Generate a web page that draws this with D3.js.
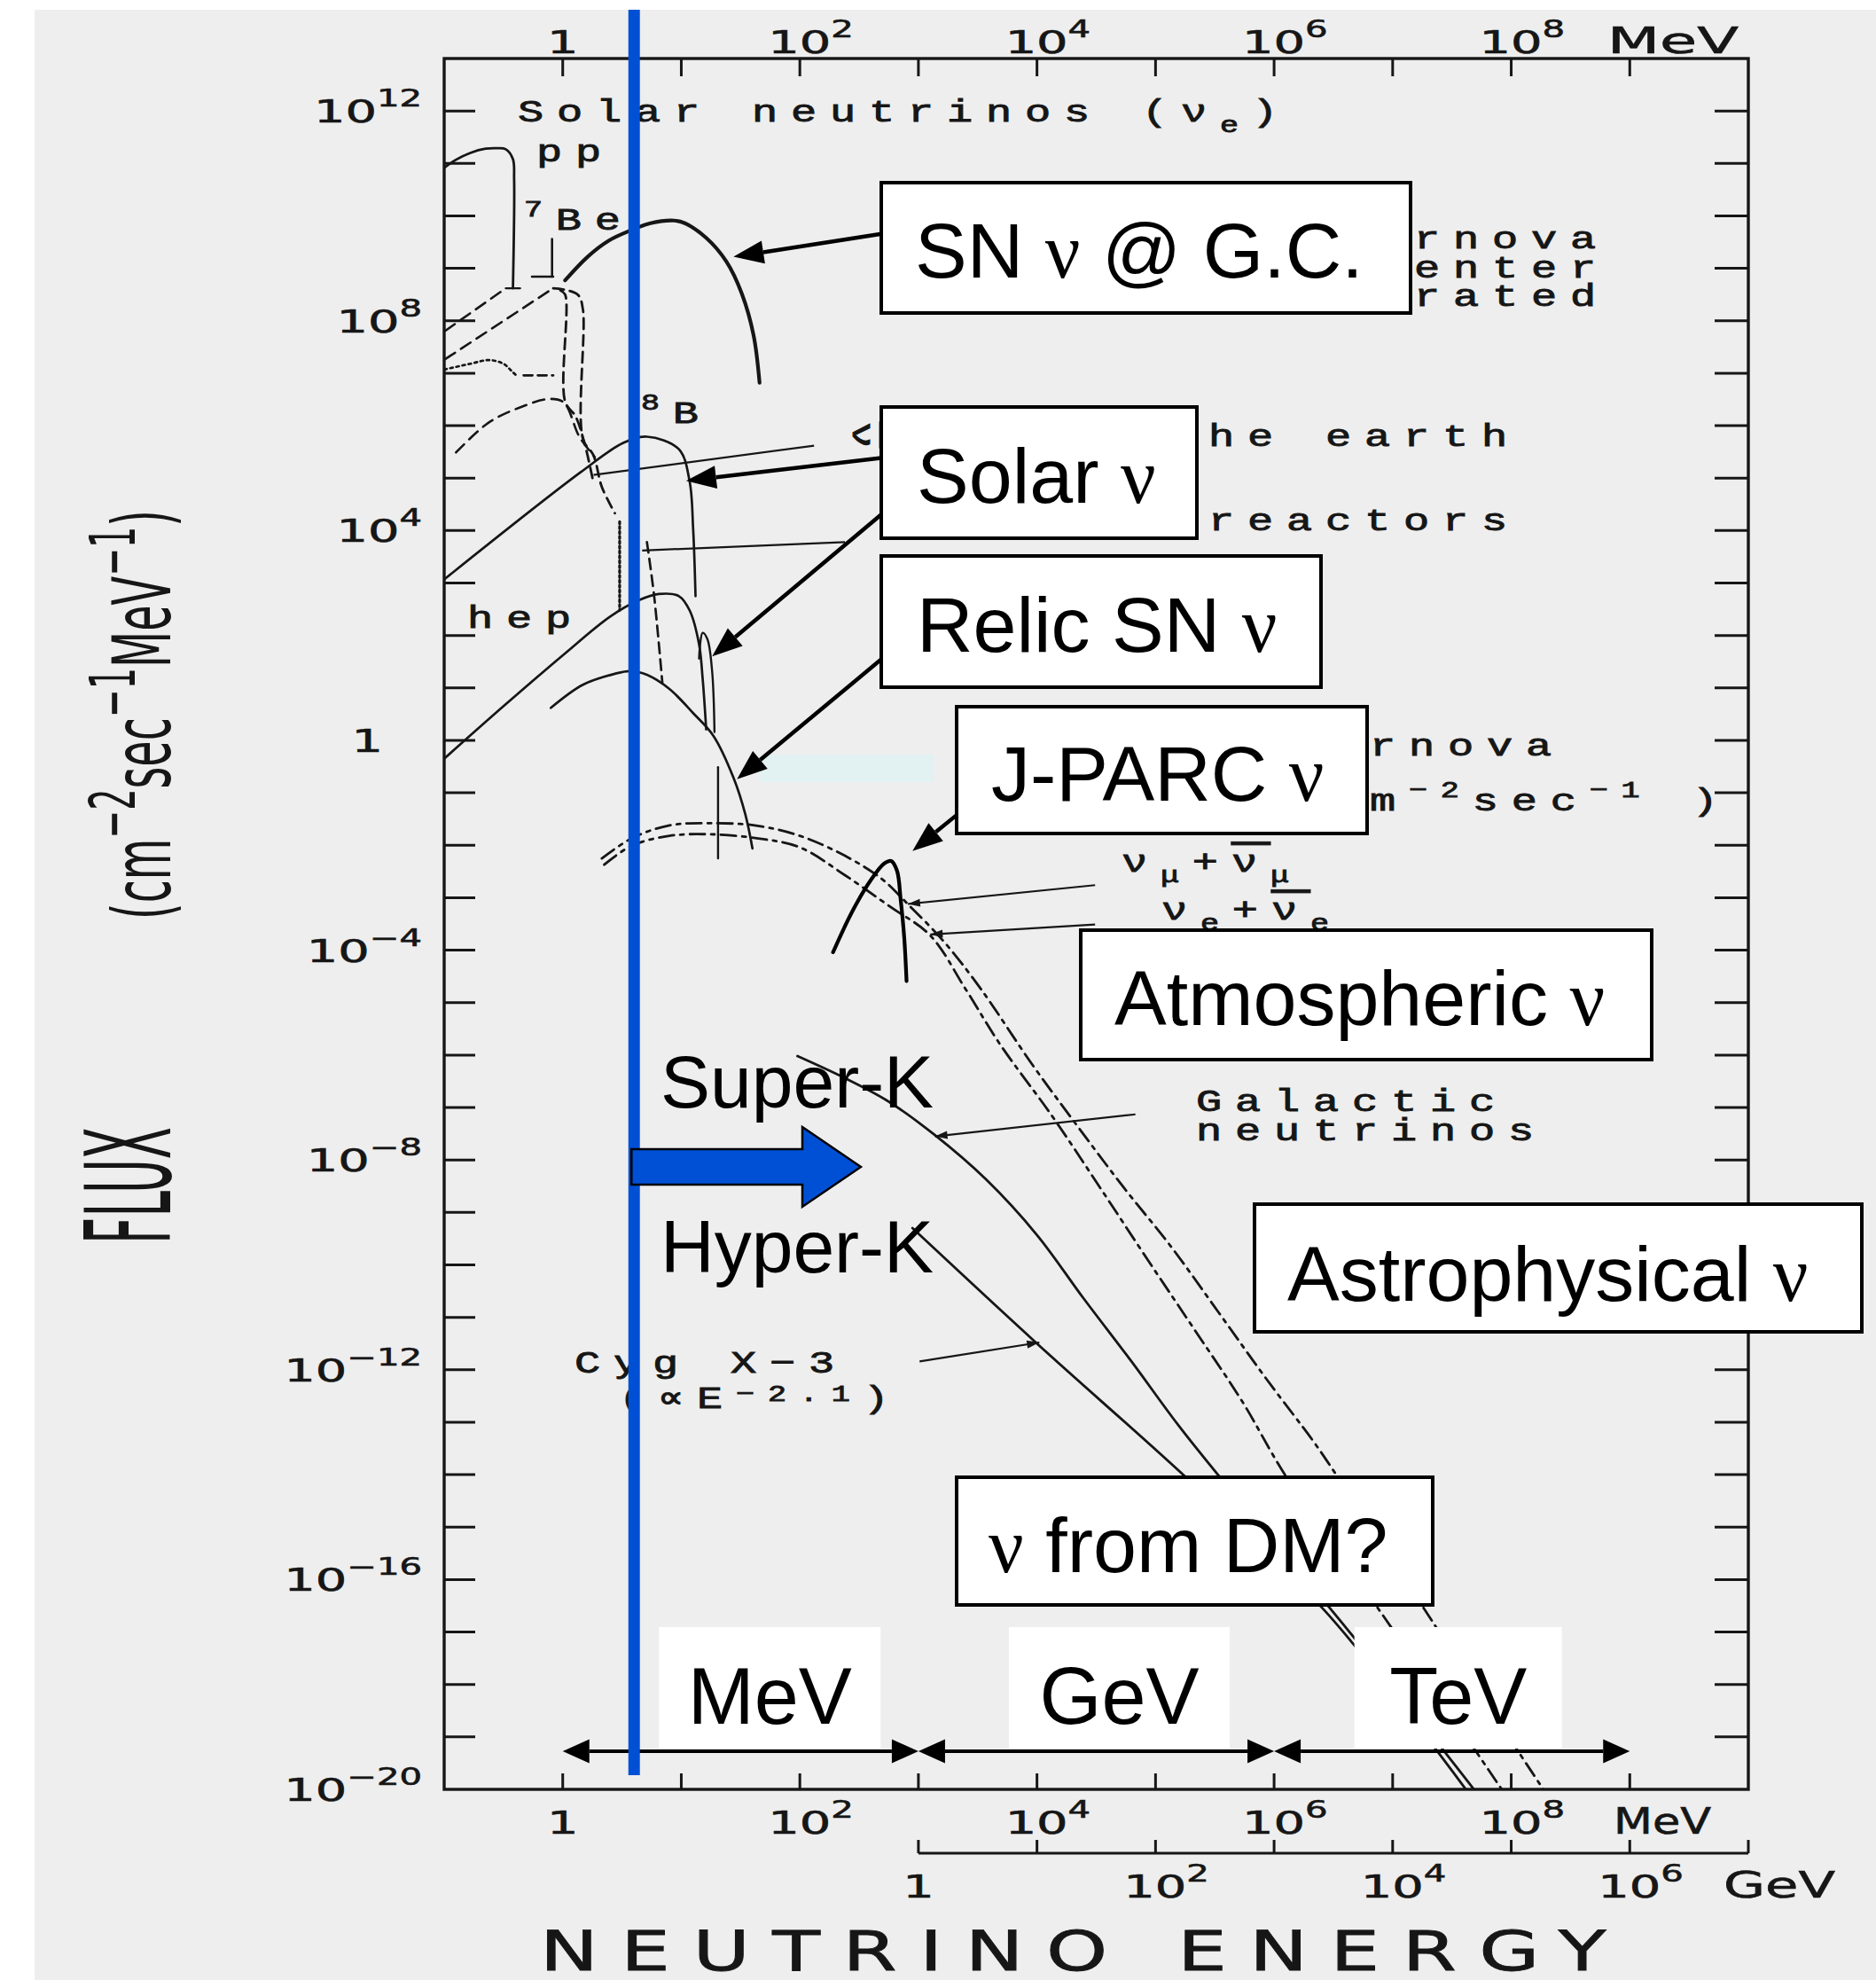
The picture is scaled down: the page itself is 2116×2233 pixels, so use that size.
<!DOCTYPE html>
<html>
<head>
<meta charset="utf-8">
<script src="https://cdn.jsdelivr.net/npm/d3@7/dist/d3.min.js"></script>
<style>
html,body{margin:0;padding:0;background:#fff;}
svg{display:block;}
</style>
</head>
<body>
<svg id="chart" width="2116" height="2233"></svg>
<script>
// ================= DATA =================
// Axis tick labels
const energyTickValues = [1, 1e2, 1e4, 1e6, 1e8];          // MeV (top & bottom axes)
const energyTickExps   = ["", "2", "4", "6", "8"];
const gevTickValues    = [1e3, 1e5, 1e7, 1e9];             // positions in MeV of 1,10^2,10^4,10^6 GeV
const gevTickExps      = ["", "2", "4", "6"];
const fluxTickValues   = [1e12, 1e8, 1e4, 1, 1e-4, 1e-8, 1e-12, 1e-16, 1e-20];
const fluxTickExps     = ["12", "8", "4", "", "\u22124", "\u22128", "\u221212", "\u221216", "\u221220"];

// Curves: [log10(E / MeV), log10(flux / cm^-2 s^-1 MeV^-1)]
const ppSolar      = [[-1.01,10.90],[-0.90,11.07],[-0.78,11.20],[-0.65,11.28],[-0.55,11.29],[-0.48,11.27],[-0.42,11.08],[-0.41,10.70],[-0.42,8.62]];
const ppBase       = [[-0.48,8.62],[-0.36,8.62]];
const be7Line      = [[-0.09,9.56],[-0.09,8.84]];
const be7Base      = [[-0.26,8.84],[-0.08,8.84]];
const snGalCenter  = [[0.02,8.77],[0.21,9.22],[0.39,9.53],[0.57,9.72],[0.74,9.86],[0.94,9.91],[1.03,9.86],[1.21,9.58],[1.38,9.13],[1.51,8.52],[1.61,7.72],[1.66,6.82]];
const cnoDashA     = [[-0.99,7.81],[-0.48,8.62]];
const cnoDashB     = [[-0.99,7.27],[-0.08,8.62]];
const cnoLoopOuter = [[-0.08,8.62],[0.02,8.59],[0.13,8.49],[0.17,8.22],[0.17,5.75],[0.26,5.43],[0.33,4.83],[0.44,4.33]];
const cnoLoopInner = [[-0.02,8.58],[0.02,8.50],[0.02,6.46],[0.11,6.17],[0.19,5.61],[0.26,4.90]];
const pepDotted    = [[-1.00,7.07],[-0.78,7.18],[-0.62,7.25],[-0.50,7.18],[-0.43,7.04],[-0.38,6.93]];
const pepDashed    = [[-0.33,6.96],[-0.08,6.96]];
const dottedDrop   = [[0.48,4.17],[0.48,2.48]];
const f17Dashed    = [[-0.90,5.49],[-0.63,6.05],[-0.37,6.34],[-0.11,6.51],[0.01,6.44],[0.14,5.79],[0.27,5.40]];
const b8Solar      = [[-1.01,3.05],[0.15,5.11],[0.51,5.67],[0.71,5.79],[0.98,5.55],[1.07,4.94],[1.10,4.03],[1.12,2.75]];
const hepSolar     = [[-1.01,-0.37],[-0.49,0.67],[0.01,1.64],[0.40,2.36],[0.64,2.67],[0.81,2.79],[0.98,2.75],[1.07,2.48],[1.15,1.83],[1.18,1.18],[1.21,0.21]];
const narrowArc    = [[1.15,1.56],[1.18,2.05],[1.22,1.93],[1.26,1.32],[1.28,0.16]];
const relicSN      = [[-0.10,0.62],[0.17,1.06],[0.44,1.27],[0.57,1.32],[0.71,1.25],[0.90,0.98],[1.10,0.52],[1.27,0.09],[1.44,-0.71],[1.54,-1.41],[1.60,-2.06]];
const relicDrop    = [[1.31,-0.51],[1.31,-2.25]];
const reactorDash  = [[0.71,3.78],[0.77,2.77],[0.84,1.10]];
const atmNuE       = [[0.35,-2.37],[0.58,-2.01],[0.90,-1.82],[1.24,-1.79],[1.65,-1.87],[2.00,-2.04],[2.38,-2.57],[2.76,-3.17],[3.10,-3.72],[3.40,-4.75],[3.69,-5.80],[4.13,-7.17],[4.53,-8.52],[4.93,-9.89],[5.33,-11.24],[5.73,-12.60],[6.10,-14.03],[7.00,-16.95],[7.95,-20.10]];
const atmNuMu      = [[0.33,-2.25],[0.58,-1.87],[0.90,-1.62],[1.24,-1.58],[1.62,-1.62],[2.00,-1.82],[2.38,-2.20],[2.69,-2.64],[2.91,-3.12],[3.22,-3.85],[3.53,-4.75],[3.96,-6.18],[4.33,-7.32],[4.73,-8.52],[5.13,-9.65],[5.53,-10.90],[5.93,-12.16],[6.33,-13.36],[6.50,-13.92],[7.35,-16.85],[8.30,-20.10]];
const galactic     = [[1.98,-6.02],[2.39,-6.45],[2.73,-6.86],[3.13,-7.51],[3.57,-8.37],[4.00,-9.43],[4.39,-10.63],[4.80,-11.85],[5.19,-13.05],[5.58,-14.15],[6.60,-16.90],[7.72,-20.10]];
const cygX3        = [[2.95,-9.30],[4.00,-11.50],[5.28,-14.10],[6.43,-16.60],[7.65,-20.10]];
const jparcBeam    = [[2.28,-4.04],[2.44,-3.27],[2.60,-2.66],[2.71,-2.35],[2.77,-2.30],[2.82,-2.49],[2.85,-3.03],[2.88,-3.75],[2.90,-4.59]];

// Thin pointer lines of the original figure: [from, to] in [log10 E, log10 flux]
const pointerLines = [
  [[2.12,5.62],[0.26,5.06]],
  [[2.38,3.78],[0.67,3.62]],
  [[4.49,-2.76],[2.91,-3.12]],
  [[4.49,-3.51],[3.10,-3.70]],
  [[4.83,-7.13],[3.14,-7.55]],
  [[3.01,-11.84],[4.02,-11.48]]
];
// Overlay arrows (box -> curve): [tail, tip] in [log10 E, log10 flux]
const overlayArrows = [
  [[2.70,9.66],[1.44,9.22]],
  [[2.70,5.39],[1.04,4.95]],
  [[2.70,4.33],[1.26,1.60]],
  [[2.70,1.57],[1.47,-0.74]],
  [[3.33,-1.41],[2.95,-2.11]]
];
// Energy bands (MeV) and detector threshold (MeV)
const bandNames = ["MeV", "GeV", "TeV"];
const bandEdges = [1, 1e3, 1e6, 1e9];
const detectorThreshold = 4;

// ================= RENDERING =================
const W = 2116, H = 2233;
const INK = "#161616";
const MONO = "'Liberation Mono','DejaVu Sans Mono',monospace";
const SANS = "'Liberation Sans',Arial,sans-serif";
const SERIF = "'Liberation Serif','Times New Roman',serif";
const ROUND = "'DejaVu Sans',sans-serif";
const BLUE = "#0050d6";

const svg = d3.select("#chart");
const x = d3.scaleLog().domain([0.1, 1e10]).range([501, 1972]);
const y = d3.scaleLog().domain([1e13, 1e-20]).range([66, 2018]);
const P = v => Math.pow(10, v);
const X = v => x(P(v)), Y = v => y(P(v));
const fr = {l: x.range()[0], r: x.range()[1], t: y.range()[0], b: y.range()[1]};

// paper
svg.append("rect").attr("width", W).attr("height", H).attr("fill", "#fff");
svg.append("rect").attr("x", 39).attr("y", 11).attr("width", W - 39).attr("height", H - 11).attr("fill", "#eeeeee");

function rich(parent, parts, o) {
  const t = parent.append("text")
    .attr("font-family", o.family).attr("font-size", o.size)
    .attr("fill", o.fill || INK);
  if (o.anchor) t.attr("text-anchor", o.anchor);
  if (o.ls != null) t.attr("letter-spacing", o.ls);
  if (o.weight) t.attr("font-weight", o.weight);
  if (o.stroke) t.attr("stroke", o.fill || INK).attr("stroke-width", o.stroke);
  let cur = 0;
  parts.forEach(pp => {
    const p = {t: pp[0], s: pp[1], f: pp[2]};
    const ts = t.append("tspan").text(p.t);
    let target = 0;
    if (p.s === "sup") target = -o.size * (o.raise != null ? o.raise : 0.42);
    else if (p.s === "sub") target = o.size * (o.drop != null ? o.drop : 0.32);
    if (target !== cur) { ts.attr("dy", target - cur); cur = target; }
    if (p.s === "sup" || p.s === "sub") ts.attr("font-size", o.size * (o.small != null ? o.small : 0.7));
    if (p.f === "bar") ts.attr("text-decoration", "overline");
    else if (p.f) ts.attr("font-family", p.f);
  });
  return t;
}
function place(parent, px, py, parts, o) {
  const g = parent.append("g").attr("transform", `translate(${px},${py})` + (o.rot ? ` rotate(${o.rot})` : ""));
  const t = rich(g, parts, o);
  let sx = o.sx || 1;
  if (o.fit) sx = o.fit / t.node().getComputedTextLength();
  if (sx !== 1) t.attr("transform", `scale(${sx},1)`);
  return t;
}
function tri(g, tip, from, len, half, fill) {
  const dx = tip[0] - from[0], dy = tip[1] - from[1];
  const L = Math.hypot(dx, dy), ux = dx / L, uy = dy / L;
  const bx = tip[0] - ux * len, by = tip[1] - uy * len;
  g.append("path")
    .attr("d", `M${tip[0]},${tip[1]}L${bx - uy * half},${by + ux * half}L${bx + uy * half},${by - ux * half}Z`)
    .attr("fill", fill);
  return [bx, by];
}

// ---------- original figure ----------
const orig = svg.append("g");

// frame
orig.append("rect").attr("x", fr.l).attr("y", fr.t).attr("width", fr.r - fr.l).attr("height", fr.b - fr.t)
  .attr("fill", "none").attr("stroke", INK).attr("stroke-width", 3.4);

// decade ticks
const yDecades = d3.range(12, -20, -1).map(P);
orig.selectAll(".lt").data(yDecades).join("line")
  .attr("x1", fr.l).attr("x2", fr.l + 35).attr("y1", d => y(d)).attr("y2", d => y(d))
  .attr("stroke", INK).attr("stroke-width", 3);
orig.selectAll(".rt").data(yDecades).join("line")
  .attr("x1", fr.r - 38).attr("x2", fr.r).attr("y1", d => y(d)).attr("y2", d => y(d))
  .attr("stroke", INK).attr("stroke-width", 3);
const xDecades = d3.range(0, 10).map(P);
orig.selectAll(".tt").data(xDecades).join("line")
  .attr("x1", d => x(d)).attr("x2", d => x(d)).attr("y1", fr.t).attr("y2", fr.t + 20)
  .attr("stroke", INK).attr("stroke-width", 3);
orig.selectAll(".bt").data(xDecades).join("line")
  .attr("x1", d => x(d)).attr("x2", d => x(d)).attr("y1", fr.b).attr("y2", fr.b - 18)
  .attr("stroke", INK).attr("stroke-width", 3);

// GeV axis
const gevY = 2090;
orig.append("line").attr("x1", x(1e3)).attr("x2", fr.r).attr("y1", gevY).attr("y2", gevY)
  .attr("stroke", INK).attr("stroke-width", 3);
orig.selectAll(".gt").data(d3.range(3, 11).map(P)).join("line")
  .attr("x1", d => x(d)).attr("x2", d => x(d)).attr("y1", gevY).attr("y2", gevY - 15)
  .attr("stroke", INK).attr("stroke-width", 3);

// tick labels
const tickO = {family: ROUND, size: 36, sx: 1.55, small: 0.72, raise: 0.5, stroke: 0.6};
fluxTickValues.forEach((v, i) => {
  const e = fluxTickExps[i];
  const parts = e ? [["10"], [e, "sup"]] : [["1"]];
  place(orig, e ? 476 : 432, y(v) + 13, parts, Object.assign({anchor: "end"}, tickO));
});
function xLabels(vals, exps, py) {
  vals.forEach((v, i) => {
    const e = exps[i];
    if (e) place(orig, x(v) - 36, py, [["10"], [e, "sup"]], tickO);
    else place(orig, x(v), py, [["1"]], Object.assign({anchor: "middle"}, tickO));
  });
}
xLabels(energyTickValues, energyTickExps, 60);
xLabels(energyTickValues, energyTickExps, 2068);
xLabels(gevTickValues, gevTickExps, 2140);
place(orig, 1813, 60, [["MeV"]], {family: ROUND, size: 40, fit: 148, stroke: 0.6});
place(orig, 1820, 2068, [["MeV"]], {family: ROUND, size: 40, fit: 110, stroke: 0.6});
place(orig, 1944, 2140, [["GeV"]], {family: ROUND, size: 40, fit: 126, stroke: 0.6});

// axis titles
place(orig, 609, 2222, [["NEUTRINO ENERGY"]], {family: ROUND, size: 62, ls: 18, fit: 1228, stroke: 0.8});
place(orig, 192, 1337, [["FLUX"]], {family: ROUND, size: 134, rot: -90, anchor: "middle", fit: 132});
place(orig, 192, 806, [["(cm"], ["\u22122", "sup"], ["sec"], ["\u22121", "sup"], ["MeV"], ["\u22121", "sup"], [")"]],
  {family: ROUND, size: 90, rot: -90, anchor: "middle", small: 0.8, raise: 0.45, fit: 462});

// curves
orig.append("clipPath").attr("id", "plotclip").append("rect")
  .attr("x", fr.l).attr("y", fr.t).attr("width", fr.r - fr.l).attr("height", fr.b - fr.t);
const curves = orig.append("g").attr("clip-path", "url(#plotclip)");
const smooth = d3.line().x(d => X(d[0])).y(d => Y(d[1])).curve(d3.curveCatmullRom.alpha(0.5));
const straight = d3.line().x(d => X(d[0])).y(d => Y(d[1]));
const DASH = "13,8", DOT = "3,4", DASHDOT = "17,7,4,7";
const curveSpecs = [
  {d: ppSolar, w: 2.8},
  {d: ppBase, w: 2.4, lin: true},
  {d: be7Line, w: 2.6, lin: true},
  {d: be7Base, w: 2.4, lin: true},
  {d: snGalCenter, w: 4.2},
  {d: cnoDashA, w: 2.6, dash: DASH, lin: true},
  {d: cnoDashB, w: 2.6, dash: DASH, lin: true},
  {d: cnoLoopOuter, w: 2.8, dash: "12,7"},
  {d: cnoLoopInner, w: 2.8, dash: "12,7"},
  {d: pepDotted, w: 2.7, dash: DOT},
  {d: pepDashed, w: 2.7, dash: "10,6", lin: true},
  {d: dottedDrop, w: 3.2, dash: "2.5,3", lin: true},
  {d: f17Dashed, w: 2.6, dash: DASH},
  {d: b8Solar, w: 2.7},
  {d: hepSolar, w: 2.7},
  {d: narrowArc, w: 2.4},
  {d: relicSN, w: 2.7},
  {d: relicDrop, w: 2.4, lin: true},
  {d: reactorDash, w: 2.7, dash: "12,7"},
  {d: atmNuE, w: 2.8, dash: DASHDOT},
  {d: atmNuMu, w: 2.8, dash: DASHDOT},
  {d: galactic, w: 2.8},
  {d: cygX3, w: 2.8}
];
curves.selectAll("path.curve").data(curveSpecs).join("path")
  .attr("class", "curve")
  .attr("d", s => (s.lin ? straight : smooth)(s.d))
  .attr("fill", "none").attr("stroke", INK)
  .attr("stroke-width", s => s.w)
  .attr("stroke-dasharray", s => s.dash || null)
  .attr("stroke-linecap", "round");

// thin pointer lines
pointerLines.forEach((pl, i) => {
  const a = [X(pl[0][0]), Y(pl[0][1])], b = [X(pl[1][0]), Y(pl[1][1])];
  curves.append("line").attr("x1", a[0]).attr("y1", a[1]).attr("x2", b[0]).attr("y2", b[1])
    .attr("stroke", INK).attr("stroke-width", 2.2);
  if (i >= 2) tri(curves, b, a, 14, 4.5, INK);
});

// typewriter annotations of the original
const MO = {family: MONO, size: 36, ls: 11, sx: 1.35, stroke: 0.9, small: 0.72};
const monoLabels = [
  [584, 137, [["Solar neutrinos (\u03bd"], ["e", "sub"], [")"]]],
  [605, 182, [["pp"]]],
  [591, 259, [["7", "sup"], ["Be"]]],
  [723, 477, [["8", "sup"], ["B"]]],
  [527, 708, [["hep"]]],
  [1595, 280, [["rnova"]]],
  [1595, 313, [["enter"]]],
  [1595, 345, [["rated"]]],
  [1363, 503, [["he earth"]]],
  [1363, 598, [["reactors"]]],
  [1545, 852, [["rnova"]]],
  [1545, 914, [["m"], ["\u22122", "sup"], ["sec"], ["\u22121", "sup"], [" )"]]],
  [1265, 983, [["\u03bd"], ["\u03bc", "sub"], ["+"], ["\u03bd", null, "bar"], ["\u03bc", "sub"]]],
  [1310, 1037, [["\u03bd"], ["e", "sub"], ["+"], ["\u03bd", null, "bar"], ["e", "sub"]]],
  [1349, 1253, [["Galactic"]]],
  [1349, 1286, [["neutrinos"]]],
  [648, 1548, [["Cyg X\u22123"]]],
  [698, 1588, [["(\u221dE"], ["\u22122.1", "sup"], [")"]], {raise: 0.22}]
];
monoLabels.forEach(m => place(orig, m[0], m[1], m[2], Object.assign({}, MO, m[3] || {})));
place(orig, 962, 476, [["\u03bd", null, "bar"]], Object.assign({}, MO, {rot: 90, ls: 0}));

// ---------- overlays ----------
const ov = svg.append("g");
ov.append("rect").attr("x", 856).attr("y", 851).attr("width", 197).attr("height", 31).attr("fill", "#e2f1f1");

// J-PARC beam spectrum
ov.append("path").attr("d", smooth(jparcBeam)).attr("fill", "none")
  .attr("stroke", "#000").attr("stroke-width", 4.2).attr("stroke-linecap", "round");

// arrows from boxes
overlayArrows.forEach(a => {
  const tail = [X(a[0][0]), Y(a[0][1])], tip = [X(a[1][0]), Y(a[1][1])];
  const base = tri(ov, tip, tail, 34, 13, "#000");
  ov.append("line").attr("x1", tail[0]).attr("y1", tail[1]).attr("x2", base[0]).attr("y2", base[1])
    .attr("stroke", "#000").attr("stroke-width", 4.5);
});

// labelled boxes
const boxLayout = [
  {x: 994, y: 206, w: 597, h: 147, tx: 1032, ty: 313, parts: [["SN "], ["\u03bd", null, SERIF], [" @ G.C."]]},
  {x: 994, y: 459, w: 356, h: 148, tx: 1034, ty: 567, parts: [["Solar "], ["\u03bd", null, SERIF]]},
  {x: 994, y: 627, w: 496, h: 148, tx: 1034, ty: 735, parts: [["Relic SN "], ["\u03bd", null, SERIF]]},
  {x: 1079, y: 797, w: 463, h: 143, tx: 1118, ty: 903, parts: [["J-PARC "], ["\u03bd", null, SERIF]]},
  {x: 1219, y: 1049, w: 644, h: 146, tx: 1257, ty: 1156, parts: [["Atmospheric "], ["\u03bd", null, SERIF]]},
  {x: 1415, y: 1358, w: 685, h: 144, tx: 1452, ty: 1467, parts: [["Astrophysical "], ["\u03bd", null, SERIF]]},
  {x: 1079, y: 1666, w: 537, h: 144, tx: 1115, ty: 1773, parts: [["\u03bd", null, SERIF], [" from DM?"]]}
];
boxLayout.forEach(b => {
  ov.append("rect").attr("x", b.x).attr("y", b.y).attr("width", b.w).attr("height", b.h)
    .attr("fill", "#fff").attr("stroke", "#000").attr("stroke-width", 4);
  place(ov, b.tx, b.ty, b.parts, {family: SANS, size: 88, fill: "#000"});
});

// energy bands
const bandY = 1975;
const bandShift = [33, 26, 7], bandW = [250, 249, 234];
bandNames.forEach((n, i) => {
  const x0 = x(bandEdges[i]), x1 = x(bandEdges[i + 1]);
  const cx = (x0 + x1) / 2 + bandShift[i];
  ov.append("rect").attr("x", cx - bandW[i] / 2).attr("y", 1835).attr("width", bandW[i]).attr("height", 137).attr("fill", "#fff");
  place(ov, cx, 1944, [[n]], {family: SANS, size: 90, fill: "#000", anchor: "middle"});
});
bandEdges.slice(0, -1).forEach((e, i) => {
  const a = [x(e), bandY], b = [x(bandEdges[i + 1]), bandY];
  const b1 = tri(ov, a, b, 30, 13.5, "#000");
  const b2 = tri(ov, b, a, 30, 13.5, "#000");
  ov.append("line").attr("x1", b1[0]).attr("y1", bandY).attr("x2", b2[0]).attr("y2", bandY)
    .attr("stroke", "#000").attr("stroke-width", 4);
});

// detector threshold line
ov.append("line").attr("x1", x(detectorThreshold)).attr("x2", x(detectorThreshold))
  .attr("y1", 11).attr("y2", 2002).attr("stroke", BLUE).attr("stroke-width", 13);

// Super-K -> Hyper-K
place(ov, 745, 1249, [["Super-K"]], {family: SANS, size: 84, fill: "#000"});
place(ov, 745, 1435, [["Hyper-K"]], {family: SANS, size: 84, fill: "#000"});
const ax0 = x(detectorThreshold) - 3, ahx = 905, atx = 971, acy = 1316;
ov.append("path")
  .attr("d", `M${ax0},${acy - 20}L${ahx},${acy - 20}L${ahx},${acy - 45}L${atx},${acy}L${ahx},${acy + 45}L${ahx},${acy + 20}L${ax0},${acy + 20}Z`)
  .attr("fill", BLUE).attr("stroke", "#000").attr("stroke-width", 2.5).attr("stroke-linejoin", "miter");
</script>
</body>
</html>
